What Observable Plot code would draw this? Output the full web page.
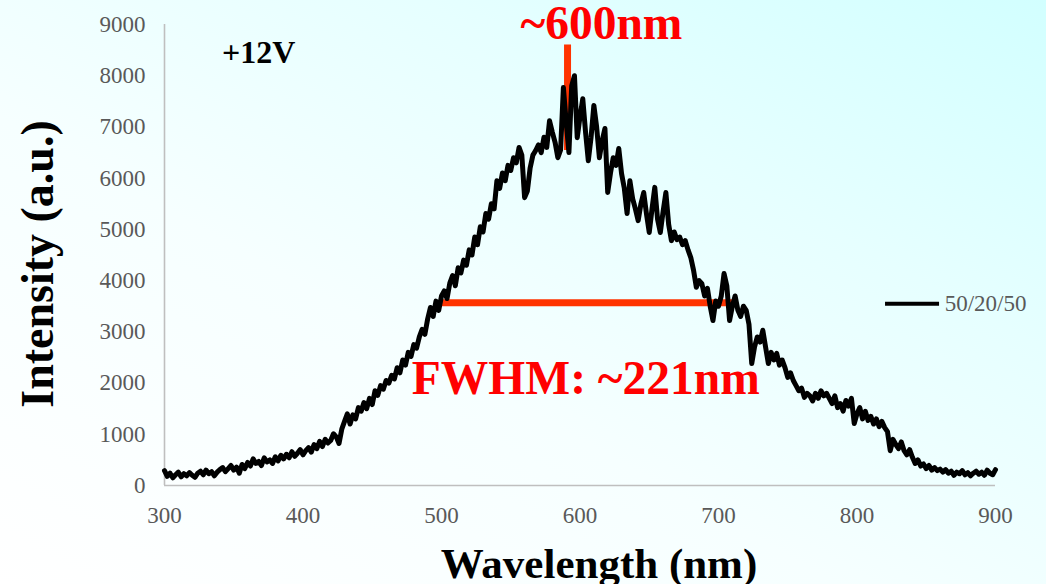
<!DOCTYPE html>
<html>
<head>
<meta charset="utf-8">
<script src="https://cdn.jsdelivr.net/npm/d3@7"></script>
<script src="https://cdn.jsdelivr.net/npm/@observablehq/plot@0.6"></script>
<style>
  html, body { margin: 0; padding: 0; }
  body {
    width: 1046px; height: 584px; overflow: hidden;
    background: linear-gradient(to top right, #ffffff 0%, #f6ffff 40%, #e6ffff 70%, #d2ffff 100%);
    font-family: "Liberation Serif", "Times New Roman", serif;
  }
</style>
</head>
<body>
<div id="chart"></div>
<script>
// ---- data ----
const seriesName = "50/20/50";
const wavelengthStart = 300, wavelengthEnd = 900, wavelengthStep = 2;
const intensity = [
  // 300-340
  290,180,240,150,210,260,170,230,190,250,200,160,240,280,210,300,230,270,190,260,310,
  // 342-380
  350,270,330,390,300,360,240,410,330,450,380,520,430,470,390,540,460,500,430,560,
  // 382-420
  480,590,520,610,540,660,570,630,700,600,680,740,650,800,720,860,760,900,830,880,
  // 422-460
  1010,950,820,1100,1250,1400,1200,1380,1300,1520,1450,1620,1500,1700,1580,1850,1760,1950,1880,2050,
  // 462-500
  2000,2150,2080,2300,2200,2450,2350,2600,2520,2750,2680,2900,3050,2950,3250,3475,3300,3600,3420,3700,
  // 502-540
  3800,3650,3950,4100,3900,4250,4150,4400,4300,4600,4500,4850,4700,5050,4950,5310,5200,5500,5400,5950,
  // 542-580
  5800,6100,5950,6250,6150,6400,6300,6600,6450,5620,5750,6200,6450,6540,6650,6500,6800,6600,7120,6900,
  // 582-620
  6700,6400,6550,7770,7100,6500,7800,8000,6790,7200,7550,6900,6340,6800,7420,7000,6400,6730,6970,5720,
  // 622-660
  6100,6400,6250,6580,6090,5800,5310,5950,5600,5400,5170,5500,5720,5300,4940,5400,5820,5200,4940,5350,
  // 662-700
  5720,5100,4780,4950,4800,4850,4700,4780,4600,4450,4200,3870,4000,3940,3700,3850,3500,3220,3600,3500,
  // 702-740
  3700,4140,3900,3220,3500,3700,3420,3300,3500,3420,3150,2380,2700,2900,2800,3030,2700,2380,2600,2450,
  // 742-780
  2580,2350,2450,2300,2110,2200,2050,1950,1850,1900,1720,1800,1750,1650,1800,1700,1850,1750,1800,1700,
  // 782-820
  1600,1750,1520,1600,1450,1660,1550,1700,1210,1400,1520,1300,1450,1270,1350,1200,1300,1150,1250,1130,
  // 822-860
  1050,680,900,800,720,850,680,600,700,550,430,500,380,420,330,390,300,350,290,320,
  // 862-900
  260,310,240,280,200,260,230,290,210,250,190,240,280,220,260,200,300,240,210,310
];
const xTicks = [300, 400, 500, 600, 700, 800, 900];
const yTicks = [0, 1000, 2000, 3000, 4000, 5000, 6000, 7000, 8000, 9000];
const xLabel = "Wavelength (nm)";
const yLabel = "Intensity (a.u.)";
const voltageLabel = "+12V";
const peakLabel = "~600nm";
const fwhmLabel = "FWHM: ~221nm";
// annotation geometry in data units
const peakMarker = [{x: 591, y1: 6540, y2: 8600}];
const fwhmMarker = [{x1: 499, x2: 714, y: 3570}];

// ---- build table ----
const wavelengths = d3.range(wavelengthStart, wavelengthEnd + 1, wavelengthStep);
const spectrum = wavelengths.map((w, i) => ({wavelength: w, intensity: intensity[i]}));

const serif = "'Liberation Serif', 'Times New Roman', serif";
const red = "#ff0000";
const orange = "#ff3300";
const axisGray = "#bfbfbf";
const tickGray = "#595959";

const chart = Plot.plot({
  width: 1046,
  height: 584,
  marginLeft: 164,
  marginRight: 51,
  marginTop: 24,
  marginBottom: 99,
  style: {background: "transparent", fontFamily: serif, overflow: "visible"},
  x: {domain: [300, 900], ticks: xTicks, label: null},
  y: {domain: [0, 9000], ticks: yTicks, label: null},
  marks: [
    Plot.axisX({ticks: xTicks, tickSize: 0, tickPadding: 21, fontSize: 23, fill: tickGray, tickFormat: d => String(d), label: null}),
    Plot.axisY({ticks: yTicks, tickSize: 0, tickPadding: 19, fontSize: 23, fill: tickGray, tickFormat: d => String(d), label: null}),
    Plot.ruleY([0], {stroke: axisGray, strokeWidth: 1.6}),
    Plot.ruleX([300], {stroke: axisGray, strokeWidth: 1.6}),
    // annotation lines (behind curve)
    Plot.ruleX(peakMarker, {x: "x", y1: "y1", y2: "y2", stroke: orange, strokeWidth: 7}),
    Plot.ruleY(fwhmMarker, {y: "y", x1: "x1", x2: "x2", stroke: orange, strokeWidth: 7}),
    // spectrum
    Plot.line(spectrum, {x: "wavelength", y: "intensity", stroke: "black", strokeWidth: 5, strokeLinejoin: "round", strokeLinecap: "round"}),
    // annotation texts
    Plot.text([peakLabel], {x: 615.5, y: 9018, text: d => d, fill: red, fontSize: 47.5, fontWeight: "bold", textAnchor: "middle", lineAnchor: "middle"}),
    Plot.text([fwhmLabel], {x: 604.2, y: 2080, text: d => d, fill: red, fontSize: 47.5, fontWeight: "bold", textAnchor: "middle", lineAnchor: "middle"}),
    Plot.text([voltageLabel], {x: 368, y: 8440, text: d => d, fill: "black", fontSize: 32, fontWeight: "bold", textAnchor: "middle", lineAnchor: "middle"}),
    // legend
    Plot.ruleY([seriesName], {y: 3550, x1: 820.6, x2: 859.6, stroke: "black", strokeWidth: 4}),
    Plot.text([seriesName], {x: 863.3, y: 3550, text: d => d, fill: tickGray, fontSize: 23, textAnchor: "start", lineAnchor: "middle"}),
    // axis titles
    Plot.text([xLabel], {frameAnchor: "bottom", dx: 19, dy: 79, text: d => d, fill: "black", fontSize: 43, fontWeight: "bold", textAnchor: "middle", lineAnchor: "middle"}),
    Plot.text([yLabel], {frameAnchor: "left", dx: -126, dy: 9, rotate: -90, text: d => d, fill: "black", fontSize: 46, fontWeight: "bold", textAnchor: "middle", lineAnchor: "middle"})
  ]
});
document.getElementById("chart").appendChild(chart);
</script>
</body>
</html>
